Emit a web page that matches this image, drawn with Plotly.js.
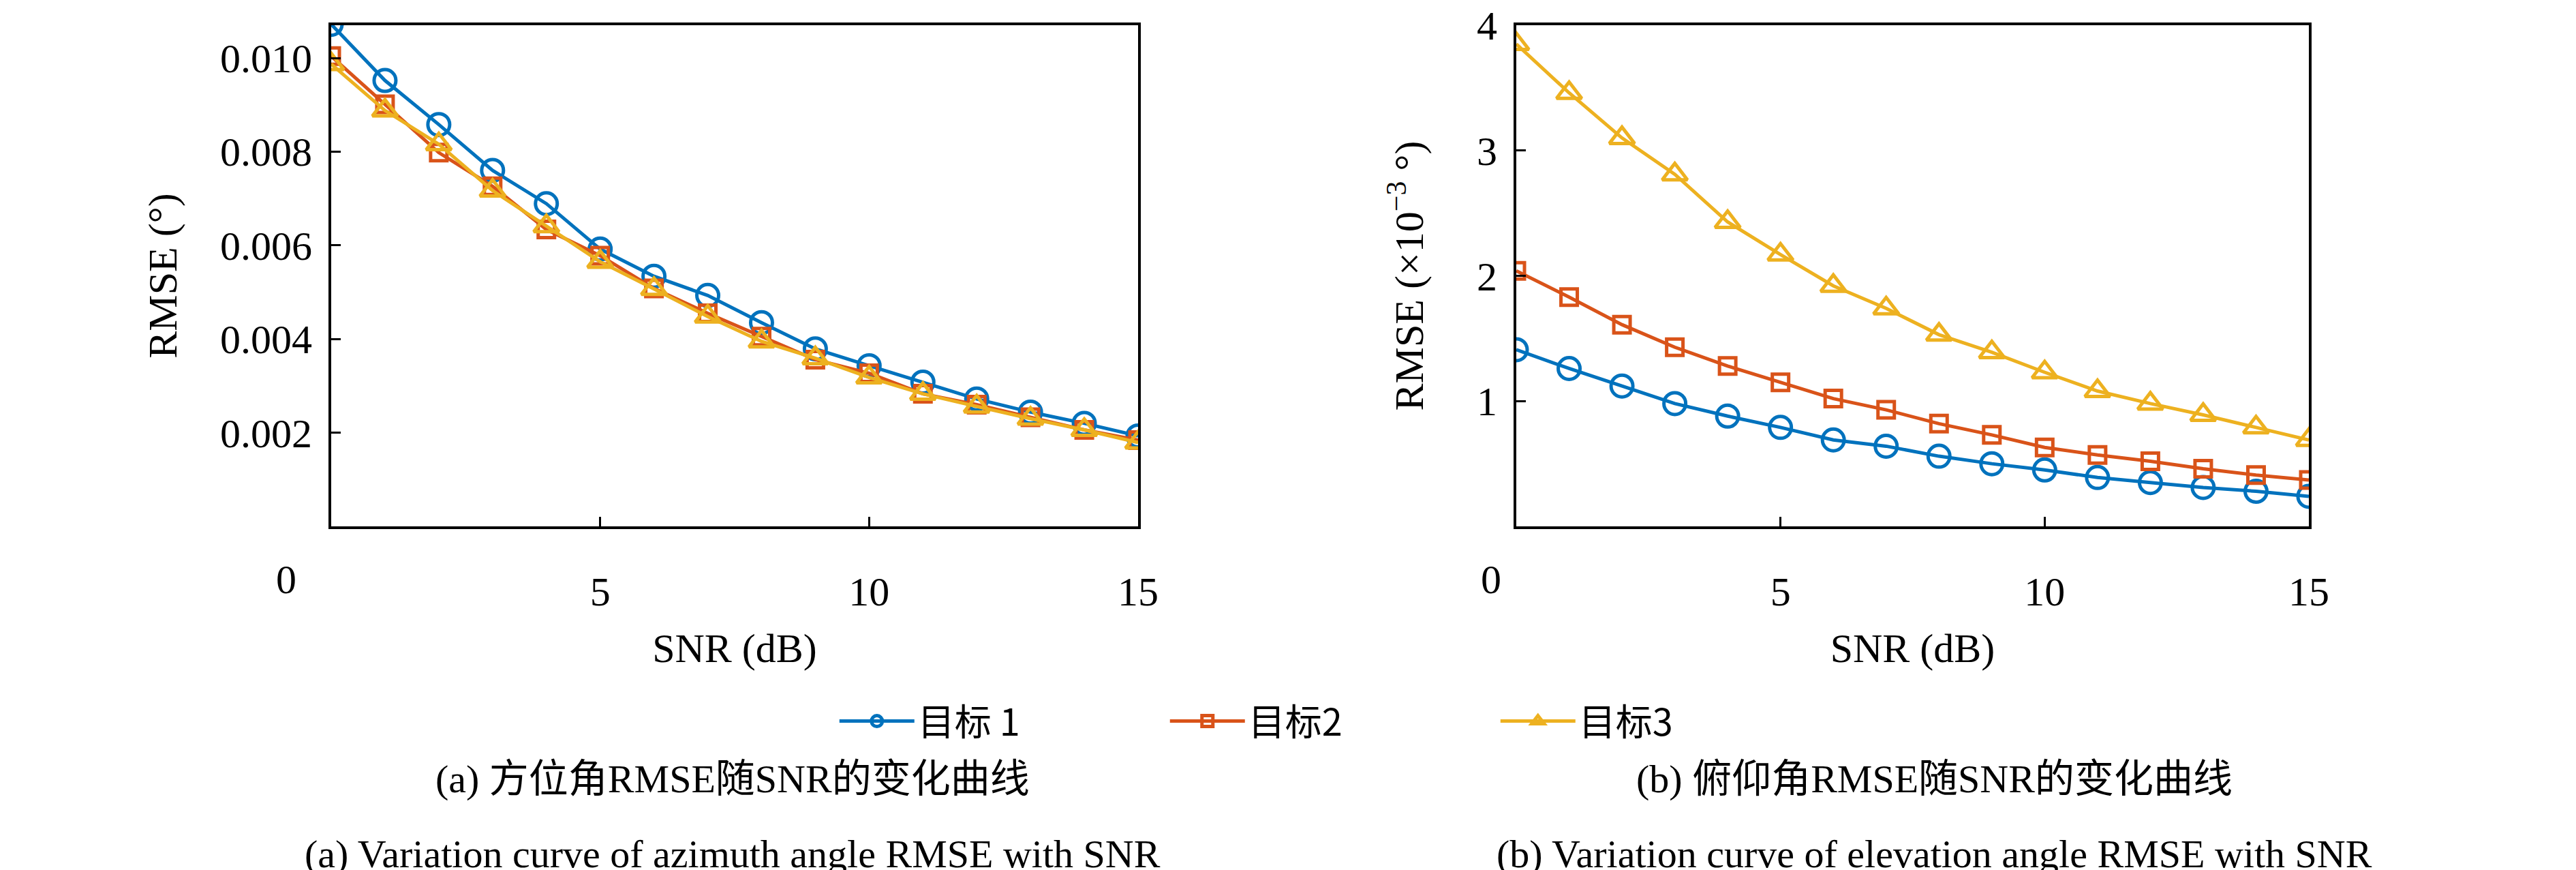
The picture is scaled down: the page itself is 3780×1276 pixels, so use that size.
<!DOCTYPE html>
<html><head><meta charset="utf-8">
<script src="https://cdn.plot.ly/plotly-3.0.1.min.js"></script>
<style>body{margin:0;background:#fff}</style></head>
<body><div id="c" style="width:3780px;height:1276px"></div>
<script>
const snr=[0,1,2,3,4,5,6,7,8,9,10,11,12,13,14,15];
const azT1=[0.01072,0.00952,0.00858,0.00760,0.00689,0.00592,0.00534,0.00493,0.00435,0.00379,0.00343,0.00308,0.00272,0.00244,0.00220,0.00193];
const azT2=[0.01004,0.00901,0.00798,0.00726,0.00634,0.00578,0.00508,0.00455,0.00405,0.00356,0.00327,0.00283,0.00260,0.00233,0.00206,0.00184];
const azT3=[0.00987,0.00888,0.00816,0.00717,0.00641,0.00565,0.00507,0.00448,0.00395,0.00359,0.00318,0.00283,0.00256,0.00230,0.00206,0.00179];
const elT1=[1.41,1.26,1.12,0.98,0.88,0.79,0.69,0.64,0.56,0.50,0.45,0.39,0.35,0.31,0.28,0.24];
const elT2=[2.04,1.83,1.61,1.43,1.28,1.15,1.02,0.93,0.82,0.73,0.63,0.57,0.52,0.46,0.41,0.37];
const elT3=[3.85,3.46,3.10,2.81,2.43,2.17,1.92,1.74,1.53,1.39,1.23,1.08,0.98,0.89,0.79,0.69];
const names=['目标 1','目标2','目标3'];
const colors=['#0072BD','#D95319','#EDB120'];
const syms=['circle-open','square-open','triangle-up-open'];
const serif='"Liberation Serif","DejaVu Serif",serif';
function tr(y,i,ax,show){return {x:snr,y:y,type:'scatter',mode:'lines+markers',name:names[i],showlegend:show,
 xaxis:ax==1?'x':'x2',yaxis:ax==1?'y':'y2',line:{color:colors[i],width:5},
 marker:{symbol:syms[i],size:i==1?24:32,color:colors[i],line:{width:5,color:colors[i]}}};}
const data=[tr(azT1,0,1,true),tr(azT2,1,1,true),tr(azT3,2,1,true),tr(elT1,0,2,false),tr(elT2,1,2,false),tr(elT3,2,2,false)];
const W=3780,H=1276;
const tf={family:serif,size:60,color:'#000'};
const axc={showline:true,mirror:true,linecolor:'#000',linewidth:4,ticks:'inside',ticklen:14,tickwidth:3,tickcolor:'#000',showgrid:false,zeroline:false,tickfont:tf};
const xax=Object.assign({},axc,{range:[0,15],tickvals:[5,10,15],ticklabelstandoff:40,title:{text:'SNR (dB)',font:tf,standoff:30}});
function ann(t,x,y,f){return {text:t,x:x/W,y:1-y/H,xref:'paper',yref:'paper',xanchor:'center',yanchor:'middle',showarrow:false,font:f};}
const cf={family:'"Liberation Serif","Noto Sans CJK SC",serif',size:58,color:'#000'};
const layout={width:W,height:H,paper_bgcolor:'#fff',plot_bgcolor:'#fff',showlegend:true,
 margin:{l:0,r:0,t:0,b:0},
 xaxis:Object.assign({},xax,{domain:[486/W,1670/W],anchor:'y'}),
 yaxis:Object.assign({},axc,{domain:[1-772/H,1-37/H],range:[0,0.0107],tickvals:[0.002,0.004,0.006,0.008,0.010],tickformat:'.3f',ticklabelstandoff:12,anchor:'x',
   title:{text:'RMSE (°)',font:tf,standoff:45}}),
 xaxis2:Object.assign({},xax,{domain:[2225/W,3388/W],anchor:'y2'}),
 yaxis2:Object.assign({},axc,{domain:[1-772/H,1-37/H],range:[0,4],tickvals:[1,2,3,4],ticklabelstandoff:12,anchor:'x2',
   title:{text:'RMSE (×10<sup>−3</sup> °)',font:tf,standoff:60}}),
 legend:{orientation:'h',x:0.517,xanchor:'center',y:1-1058/H,yanchor:'middle',font:{family:'"Noto Sans CJK SC",serif',size:54,color:'#000'},entrywidth:360,itemwidth:110},
 annotations:[
  ann('0',420,850,tf),ann('0',2188,850,tf),
  ann('(a) 方位角RMSE随SNR的变化曲线',1075,1142,cf),
  ann('(b) 俯仰角RMSE随SNR的变化曲线',2838,1142,cf),
  ann('(a) Variation curve of azimuth angle RMSE with SNR',1075,1252,cf),
  ann('(b) Variation curve of elevation angle RMSE with SNR',2838,1252,cf)
 ]};
Plotly.newPlot('c',data,layout,{displayModeBar:false,staticPlot:true});
</script></body></html>
